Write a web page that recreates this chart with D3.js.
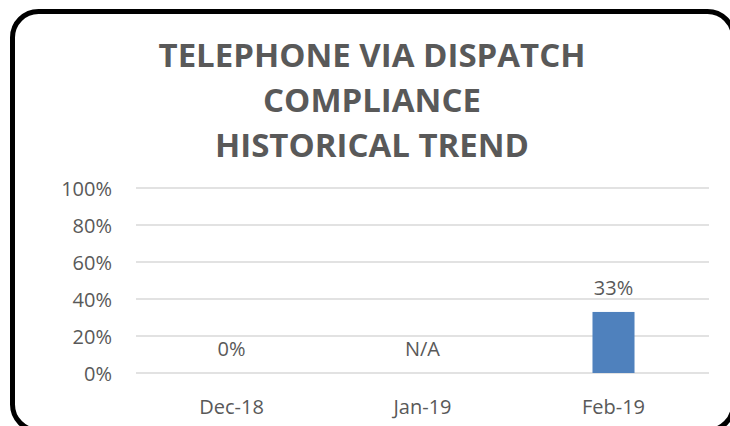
<!DOCTYPE html>
<html>
<head>
<meta charset="utf-8">
<script src="https://cdn.jsdelivr.net/npm/d3@7"></script>
<style>
  body { margin: 0; background: #fff; }
  text { font-family: "Open Sans", sans-serif; fill: #595959; }
</style>
</head>
<body>
<div id="chart"></div>
<script>
//data
var categories = ["Dec-18", "Jan-19", "Feb-19"];
var values = [0, null, 0.33];
var valueLabels = ["0%", "N/A", "33%"];
var yTicks = [0, 0.2, 0.4, 0.6, 0.8, 1.0];
var titleLines = ["TELEPHONE VIA DISPATCH", "COMPLIANCE", "HISTORICAL TREND"];

var w = 730, h = 426;
var margin = {top: 188, left: 136, right: 21, bottom: 53};
var fontSize = 20;

var svg = d3.select("#chart").append("svg")
  .attr("width", w)
  .attr("height", h);

//rounded frame, runs off the right and bottom edges
svg.append("rect")
  .attr("x", 12.5)
  .attr("y", 11.5)
  .attr("width", 721)
  .attr("height", 419)
  .attr("rx", 26)
  .attr("ry", 26)
  .attr("fill", "#fff")
  .attr("stroke", "#000")
  .attr("stroke-width", 5);

//title
svg.append("g").selectAll("text")
  .data(titleLines)
  .enter()
  .append("text")
  .attr("x", 372)
  .attr("y", function(d, i) { return 67 + i * 45; })
  .attr("text-anchor", "middle")
  .attr("font-size", 33)
  .attr("font-weight", "bold")
  .text(function(d) { return d; });

var x = d3.scaleBand()
  .domain(categories)
  .range([margin.left, w - margin.right])
  .paddingInner(0.78)
  .paddingOuter(0.39);

var y = d3.scaleLinear()
  .domain([0, 1])
  .range([h - margin.bottom, margin.top]);

//gridlines
svg.append("g").selectAll("line")
  .data(yTicks)
  .enter()
  .append("line")
  .attr("x1", margin.left)
  .attr("x2", w - margin.right)
  .attr("y1", function(d) { return y(d); })
  .attr("y2", function(d) { return y(d); })
  .attr("stroke", "#d9d9d9")
  .attr("stroke-width", 1.5);

//y axis
var yAxis = svg.append("g")
  .attr("transform", "translate(" + (margin.left - 24) + ",0)")
  .call(d3.axisLeft(y).tickValues(yTicks).tickFormat(d3.format(".0%")).tickSize(0).tickPadding(0));
yAxis.select(".domain").remove();
yAxis.selectAll("text")
  .attr("font-size", fontSize)
  .attr("font-family", "Open Sans, sans-serif")
  .attr("fill", "#595959")
  .attr("dy", "0.35em");

//x axis
var xAxis = svg.append("g")
  .attr("transform", "translate(0," + (h - margin.bottom) + ")")
  .call(d3.axisBottom(x).tickSize(0).tickPadding(0));
xAxis.select(".domain").remove();
xAxis.selectAll("text")
  .attr("font-size", fontSize)
  .attr("font-family", "Open Sans, sans-serif")
  .attr("fill", "#595959")
  .attr("y", 34)
  .attr("dy", "0.35em");

//bars
svg.append("g").selectAll("rect")
  .data(values.map(function(v, i) { return {cat: categories[i], v: v}; }))
  .enter()
  .filter(function(d) { return d.v !== null && d.v > 0; })
  .append("rect")
  .attr("x", function(d) { return x(d.cat); })
  .attr("y", function(d) { return y(d.v); })
  .attr("width", x.bandwidth())
  .attr("height", function(d) { return y(0) - y(d.v); })
  .attr("fill", "#4f81bd");

//value labels
svg.append("g").selectAll("text")
  .data(valueLabels)
  .enter()
  .append("text")
  .attr("x", function(d, i) { return x(categories[i]) + x.bandwidth() / 2; })
  .attr("y", function(d, i) { return y(values[i] || 0) - 24; })
  .attr("dy", "0.35em")
  .attr("text-anchor", "middle")
  .attr("font-size", fontSize)
  .text(function(d) { return d; });
</script>
</body>
</html>
